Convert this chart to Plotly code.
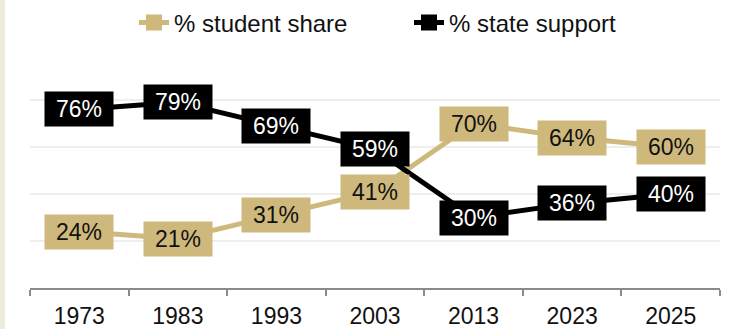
import plotly.graph_objects as go

years = ["1973", "1983", "1993", "2003", "2013", "2023", "2025"]
student_share = [24, 21, 31, 41, 70, 64, 60]
state_support = [76, 79, 69, 59, 30, 36, 40]

GOLD = "#CFB87C"
BLACK = "#000000"
FONT = "Liberation Sans, Arial, Helvetica, sans-serif"

fig = go.Figure()
fig.add_trace(go.Scatter(
    x=years, y=student_share, name="% student share",
    mode="lines+markers",
    line=dict(color=GOLD, width=5),
    marker=dict(symbol="square", size=20, color=GOLD),
))
fig.add_trace(go.Scatter(
    x=years, y=state_support, name="% state support",
    mode="lines+markers",
    line=dict(color=BLACK, width=5),
    marker=dict(symbol="square", size=20, color=BLACK),
))

annotations = []
for vals, bg, fg in [(student_share, GOLD, "#111111"), (state_support, BLACK, "#FFFFFF")]:
    for i, v in enumerate(vals):
        annotations.append(dict(
            x=i, y=v, xref="x", yref="y", text=f"{v}%",
            showarrow=False, bgcolor=bg, borderpad=4, width=60,
            font=dict(family=FONT, size=23, color=fg),
            xanchor="center", yanchor="middle",
        ))

fig.update_layout(
    width=742, height=329,
    margin=dict(l=30, r=22, t=53, b=41, autoexpand=False),
    paper_bgcolor="white", plot_bgcolor="white",
    font=dict(family=FONT, size=22, color="#111111"),
    showlegend=True,
    legend=dict(orientation="h", x=0.5 + 34 / 690, xanchor="center",
                yref="container", y=1 - 23 / 329, yanchor="middle",
                font=dict(family=FONT, size=24, color="#111111"),
                entrywidth=230,
                bgcolor="rgba(0,0,0,0)", traceorder="normal"),
    annotations=annotations,
    shapes=[dict(type="rect", xref="paper", yref="paper",
                 x0=-30/690, x1=-25/690, y0=-41/235, y1=1 + 53/235,
                 fillcolor="#EEEBDF", line=dict(width=0), layer="below")],
)
fig.update_xaxes(
    type="category", categoryorder="array", categoryarray=years,
    range=[-0.5, len(years) - 0.5], automargin=False,
    tickson="boundaries", ticks="outside", ticklen=6,
    tickcolor="#8A8A8A", tickwidth=2, ticklabelstandoff=6,
    showline=True, linecolor="#8A8A8A", linewidth=2,
    showgrid=False, tickfont=dict(family=FONT, size=23, color="#111111"),
)
fig.update_yaxes(
    range=[0, 100], dtick=20, showticklabels=False, automargin=False,
    showgrid=True, gridcolor="#EEEEEE", gridwidth=2,
    zeroline=False, showline=False,
)

fig.write_html("out.html", config={"displayModeBar": False},
               post_script="document.body.style.margin='0';document.body.style.overflow='hidden';")
